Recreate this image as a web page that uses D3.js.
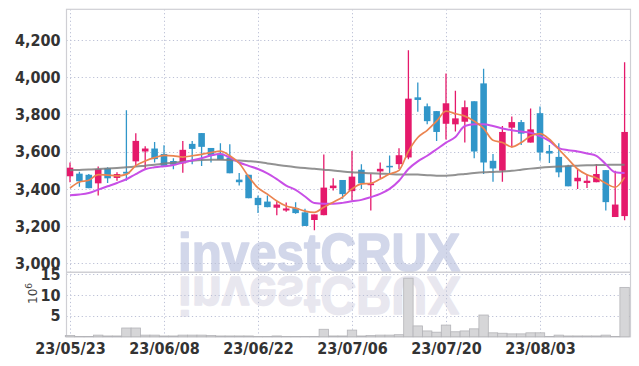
<!DOCTYPE html>
<html>
<head>
<meta charset="utf-8">
<script src="https://cdn.jsdelivr.net/npm/d3@7"></script>
<style>
  body { margin: 0; background: #fff; }
  svg { display: block; }
</style>
</head>
<body>
<svg id="chart" width="639" height="366"></svg>
<script>
// trading days shown on the chart (YY/MM/DD)
const dates = [
  "23/05/23","23/05/24","23/05/25","23/05/26","23/05/30","23/05/31","23/06/01","23/06/02","23/06/05","23/06/07",
  "23/06/08","23/06/09","23/06/12","23/06/13","23/06/14","23/06/15","23/06/16","23/06/19","23/06/20","23/06/21",
  "23/06/22","23/06/23","23/06/26","23/06/27","23/06/28","23/06/29","23/06/30","23/07/03","23/07/04","23/07/05",
  "23/07/06","23/07/07","23/07/10","23/07/11","23/07/12","23/07/13","23/07/14","23/07/17","23/07/18","23/07/19",
  "23/07/20","23/07/21","23/07/24","23/07/25","23/07/26","23/07/27","23/07/28","23/07/31","23/08/01","23/08/02",
  "23/08/03","23/08/04","23/08/07","23/08/08","23/08/09","23/08/10","23/08/11","23/08/14","23/08/16","23/08/17"
];

const open = [
  3468,3482,3476,3430,3512,3459,3492,3548,3601,3617,
  3588,3550,3537,3642,3700,3620,3590,3569,3450,3476,
  3352,3332,3299,3284,3297,3274,3233,3259,3404,3448,
  3388,3503,3420,3494,3524,3533,3569,3892,3844,3818,
  3750,3747,3761,3871,3967,3551,3498,3729,3759,3649,
  3807,3604,3572,3524,3441,3432,3436,3501,3249,3254
];
const high = [
  3542,3492,3480,3521,3516,3489,3823,3699,3629,3652,
  3635,3565,3658,3658,3700,3620,3645,3640,3485,3476,
  3364,3364,3334,3327,3329,3293,3263,3585,3457,3448,
  3604,3533,3480,3542,3580,3619,4145,3972,3859,3818,
  4020,3928,3875,3871,4045,3587,3738,3789,3770,3832,
  3843,3636,3645,3530,3507,3480,3533,3501,3498,4081
];
const low = [
  3436,3412,3404,3364,3432,3444,3444,3519,3507,3542,
  3519,3506,3487,3533,3523,3542,3556,3484,3418,3350,
  3270,3302,3258,3277,3267,3201,3178,3259,3391,3347,
  3338,3400,3284,3457,3480,3507,3560,3814,3747,3658,
  3665,3708,3649,3565,3480,3439,3439,3622,3636,3649,
  3551,3539,3462,3414,3400,3405,3436,3284,3249,3231
];
const close = [
  3514,3441,3404,3507,3457,3480,3482,3658,3617,3560,
  3524,3530,3610,3615,3626,3578,3556,3484,3436,3350,
  3313,3302,3316,3295,3270,3201,3263,3407,3418,3372,
  3466,3430,3430,3508,3516,3581,3885,3878,3764,3706,
  3860,3779,3839,3601,3542,3510,3706,3759,3697,3720,
  3596,3590,3489,3414,3460,3444,3480,3329,3316,3706
];
// volume in millions of shares
const volume = [
  0.3,0.1,0.1,0.4,0.2,0.2,2.1,2.1,0.4,0.4,
  0.2,0.2,0.4,0.4,0.4,0.3,0.2,0.2,0.2,0.2,
  0.1,0.1,0.2,0.1,0.05,0.1,0.1,1.8,0.2,0.2,
  1.6,0.2,0.3,0.4,0.4,0.5,14,2.6,1.4,1.1,
  2.8,1.2,1.4,1.9,5.2,0.95,0.85,0.7,0.7,0.95,
  0.95,0.1,0.4,0.2,0.2,0.2,0.2,0.4,0.1,11.8
];

// moving averages
const maShort = [
  3405,3437,3447,3477,3474,3470,3478,3525,3550,3568,
  3580,3578,3571,3578,3586,3595,3603,3578,3538,3466,
  3405,3372,3335,3308,3297,3281,3274,3302,3329,3356,
  3400,3427,3430,3453,3480,3500,3602,3676,3715,3764,
  3818,3804,3791,3764,3725,3661,3649,3626,3649,3684,
  3697,3667,3613,3560,3507,3476,3459,3430,3409,3462
];
const maMid = [
  3366,3370,3378,3396,3414,3432,3452,3480,3506,3516,
  3522,3528,3542,3553,3565,3580,3588,3569,3542,3524,
  3507,3484,3453,3418,3395,3359,3324,3320,3320,3325,
  3334,3341,3356,3373,3400,3444,3507,3548,3578,3613,
  3649,3679,3738,3747,3747,3738,3725,3715,3708,3702,
  3684,3658,3619,3608,3601,3590,3578,3533,3489,3485
];
const maLong = [
  3500,3502,3504,3507,3510,3513,3516,3520,3525,3530,
  3536,3541,3546,3551,3555,3557,3557,3555,3552,3549,
  3545,3537,3530,3523,3517,3512,3508,3503,3499,3494,
  3490,3487,3484,3482,3480,3478,3478,3477,3474,3471,
  3471,3475,3480,3485,3489,3491,3493,3497,3503,3509,
  3514,3518,3521,3523,3525,3527,3528,3529,3530,3530
];

const priceTicks = [3000, 3200, 3400, 3600, 3800, 4000, 4200];
const volumeTicks = [5, 10, 15];
const dateTicks = ["23/05/23", "23/06/08", "23/06/22", "23/07/06", "23/07/20", "23/08/03"];

const UP = "#e5196b";
const DOWN = "#3196c9";
const GRID = "#bcc0d6";
const LABEL_FONT = "'Liberation Sans Narrow', 'DejaVu Sans Condensed', sans-serif";

const plotLeft = 66.5, plotRight = 630.5, plotTop = 9.3, plotSplit = 272.3, plotBottom = 336.8;

const svg = d3.select("#chart");

const x = d3.scaleLinear().domain([0, dates.length - 1]).range([70, 624.6]);
const yPrice = d3.scaleLinear().domain([2952, 4365]).range([plotSplit, plotTop]);
const yVol = d3.scaleLinear().domain([0, 15.4]).range([plotBottom, plotSplit]);
const step = x(1) - x(0);

svg.append("defs").append("clipPath").attr("id", "price-clip")
  .append("rect").attr("x", plotLeft).attr("y", plotTop)
  .attr("width", plotRight - plotLeft).attr("height", plotSplit - plotTop);

// watermark and its reflection
const wm = svg.append("g")
  .attr("font-family", "'Liberation Sans', Arial, sans-serif")
  .attr("font-weight", "bold")
  .attr("stroke-width", 1.6)
  .attr("stroke-linejoin", "round");
wm.append("text")
  .attr("x", 319).attr("y", 271)
  .attr("text-anchor", "middle")
  .attr("font-size", 54)
  .attr("textLength", 282).attr("lengthAdjust", "spacingAndGlyphs")
  .attr("fill", "#d2d7ea").attr("stroke", "#d2d7ea")
  .text("investCRUX");
wm.append("text")
  .attr("x", 319).attr("y", 271)
  .attr("text-anchor", "middle")
  .attr("font-size", 54)
  .attr("textLength", 282).attr("lengthAdjust", "spacingAndGlyphs")
  .attr("fill", "#e8e7ef").attr("stroke", "#e8e7ef")
  .attr("transform", `translate(0, ${2 * 273.8}) scale(1,-1)`)
  .text("investCRUX");

// gridlines
const grid = svg.append("g").attr("stroke", GRID).attr("stroke-width", 1).attr("stroke-dasharray", "1.2,2.6");
grid.selectAll(".hp").data(priceTicks).join("line")
  .attr("x1", plotLeft).attr("x2", plotRight)
  .attr("y1", (d) => Math.round(yPrice(d)) + 0.5).attr("y2", (d) => Math.round(yPrice(d)) + 0.5);
grid.selectAll(".hv").data(volumeTicks).join("line")
  .attr("x1", plotLeft).attr("x2", plotRight)
  .attr("y1", (d) => Math.round(yVol(d)) + 0.5).attr("y2", (d) => Math.round(yVol(d)) + 0.5);
grid.selectAll(".vx").data(dateTicks).join("line")
  .attr("x1", (d) => Math.round(x(dates.indexOf(d))) + 0.5)
  .attr("x2", (d) => Math.round(x(dates.indexOf(d))) + 0.5)
  .attr("y1", plotTop).attr("y2", plotBottom);

// frame
const frame = svg.append("g").attr("stroke", "#cfcfd4").attr("fill", "none");
frame.append("rect").attr("x", plotLeft).attr("y", plotTop)
  .attr("width", plotRight - plotLeft).attr("height", plotBottom - plotTop).attr("stroke-width", 1.2);
frame.append("line").attr("x1", plotLeft).attr("x2", plotRight)
  .attr("y1", plotSplit).attr("y2", plotSplit).attr("stroke-width", 1.5);

// volume bars
svg.append("g").selectAll("rect").data(volume).join("rect")
  .attr("x", (d, i) => x(i) - step / 2)
  .attr("width", step)
  .attr("y", (d) => yVol(d))
  .attr("height", (d) => plotBottom - yVol(d))
  .attr("fill", "#d6d6d8")
  .attr("stroke", "#b4b4b8")
  .attr("stroke-width", 0.8);

// candles
const candles = svg.append("g").attr("clip-path", "url(#price-clip)")
  .selectAll("g").data(dates).join("g");
const bodyW = step * 0.7;
candles.append("line")
  .attr("x1", (d, i) => x(i)).attr("x2", (d, i) => x(i))
  .attr("y1", (d, i) => yPrice(high[i])).attr("y2", (d, i) => yPrice(low[i]))
  .attr("stroke", (d, i) => (close[i] >= open[i] ? UP : DOWN))
  .attr("stroke-width", 1.3);
candles.append("rect")
  .attr("x", (d, i) => x(i) - bodyW / 2)
  .attr("width", bodyW)
  .attr("y", (d, i) => yPrice(Math.max(open[i], close[i])))
  .attr("height", (d, i) => Math.max(1.5, Math.abs(yPrice(open[i]) - yPrice(close[i]))))
  .attr("fill", (d, i) => (close[i] >= open[i] ? UP : DOWN));

// moving averages
const line = d3.line().x((d, i) => x(i)).y((d) => yPrice(d)).curve(d3.curveMonotoneX);
const lines = svg.append("g").attr("clip-path", "url(#price-clip)").attr("fill", "none");
lines.append("path").attr("d", line(maLong)).attr("stroke", "#7f7f7f").attr("stroke-width", 2).attr("opacity", 0.85);
lines.append("path").attr("d", line(maMid)).attr("stroke", "#c84fe6").attr("stroke-width", 2);
lines.append("path").attr("d", line(maShort)).attr("stroke", "#eb8450").attr("stroke-width", 1.7);

// axes
const priceAxis = svg.append("g")
  .attr("transform", `translate(${plotLeft},0)`)
  .call(d3.axisLeft(yPrice).tickValues(priceTicks).tickFormat(d3.format(",")).tickSize(0).tickPadding(6));
const volAxis = svg.append("g")
  .attr("transform", `translate(${plotLeft},0)`)
  .call(d3.axisLeft(yVol).tickValues(volumeTicks).tickSize(0).tickPadding(6));
const dateAxis = svg.append("g")
  .attr("transform", `translate(0,${plotBottom})`)
  .call(d3.axisBottom(x).tickValues(dateTicks.map((d) => dates.indexOf(d))).tickFormat((i) => dates[i]).tickSize(0).tickPadding(6));

[priceAxis, volAxis, dateAxis].forEach((g) => {
  g.select(".domain").remove();
  g.selectAll("text")
    .attr("font-family", LABEL_FONT)
    .attr("font-weight", "bold")
    .attr("font-size", 16)
    .attr("fill", "#333");
});

// volume unit label
svg.append("text")
  .attr("transform", "translate(37,304) rotate(-90)")
  .attr("font-family", "'DejaVu Sans', sans-serif")
  .attr("font-size", 12)
  .attr("fill", "#444")
  .call((t) => {
    t.append("tspan").text("10");
    t.append("tspan").attr("dy", -5).attr("font-size", 9).text("6");
  });
</script>
</body>
</html>
